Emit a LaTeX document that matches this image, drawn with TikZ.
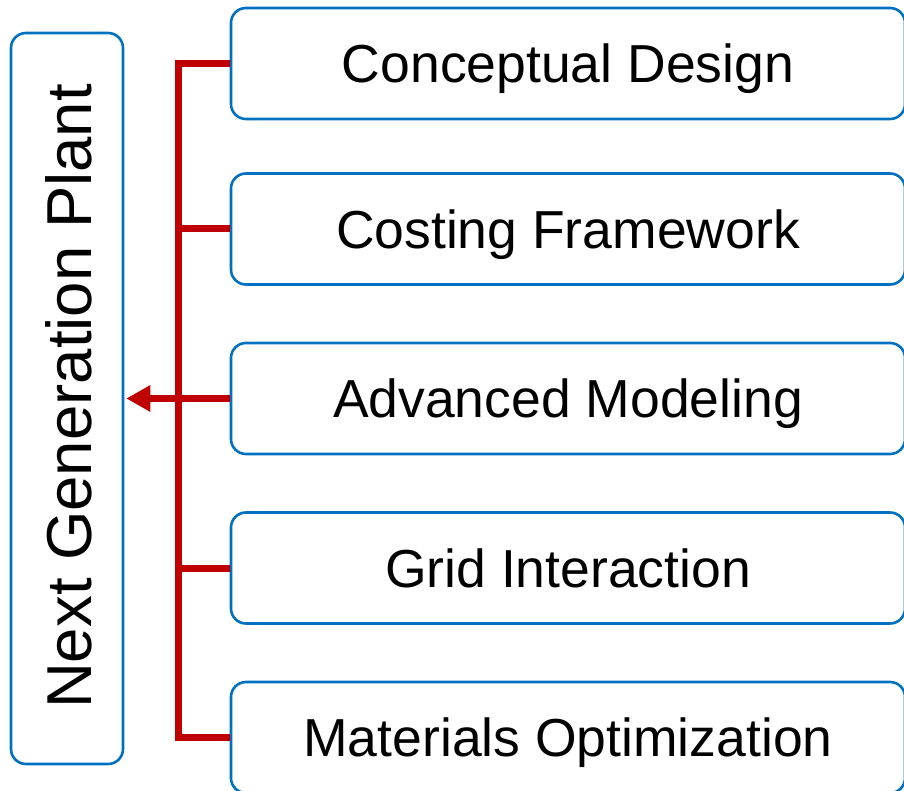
\documentclass[tikz,border=0pt]{standalone}
\usepackage{fontspec}
\setmainfont{Liberation Sans}
\usetikzlibrary{arrows.meta}
\definecolor{boxblue}{HTML}{0070C0}
\definecolor{linkred}{HTML}{C00000}
\tikzset{
  topicbox/.style={draw=boxblue, line width=2.6pt, rounded corners=15pt,
    minimum width=674pt, minimum height=111pt, inner sep=0pt,
    font=\fontsize{53.5}{60}\selectfont, text height=38.3pt, text depth=0pt},
  plantbox/.style={draw=boxblue, line width=2.6pt, rounded corners=15pt,
    minimum width=112pt, minimum height=731pt, inner sep=0pt},
  link/.style={draw=linkred, line width=7pt, line join=miter}
}
\begin{document}
\begin{tikzpicture}[x=1pt, y=-1pt]
  \useasboundingbox (0,0) rectangle (904,791);

  % central box with rotated title
  \node[plantbox] (ngp) at (67,398.5) {};
  \node[rotate=90, font=\fontsize{63.5}{70}\selectfont, text height=45.5pt,
        text depth=0pt, inner sep=0pt] (ngptext) at (68.5,396.5) {Next Generation Plant};

  % topic boxes
  \node[topicbox] (b1) at (568,63.5) {Conceptual Design};
  \node[topicbox] (b2) at (568,229)  {Costing Framework};
  \node[topicbox] (b3) at (568,398.5){Advanced Modeling};
  \node[topicbox] (b4) at (568,568)  {Grid Interaction};
  \node[topicbox] (b5) at (568,737.5){Materials Optimization};

  % bus line joining all topics
  \coordinate (trunk) at (178,0);
  \draw[link] (b1.west) -- (b1.west -| trunk) -- (b5.west -| trunk) -- (b5.west);
  \draw[link] (b2.west) -- (b2.west -| trunk);
  \draw[link] (b4.west) -- (b4.west -| trunk);
  \draw[link, -{Triangle[length=24pt, width=25pt]}, shorten >=2pt]
    (b3.west) -- (b3.west -| ngp.east);
\end{tikzpicture}
\end{document}
